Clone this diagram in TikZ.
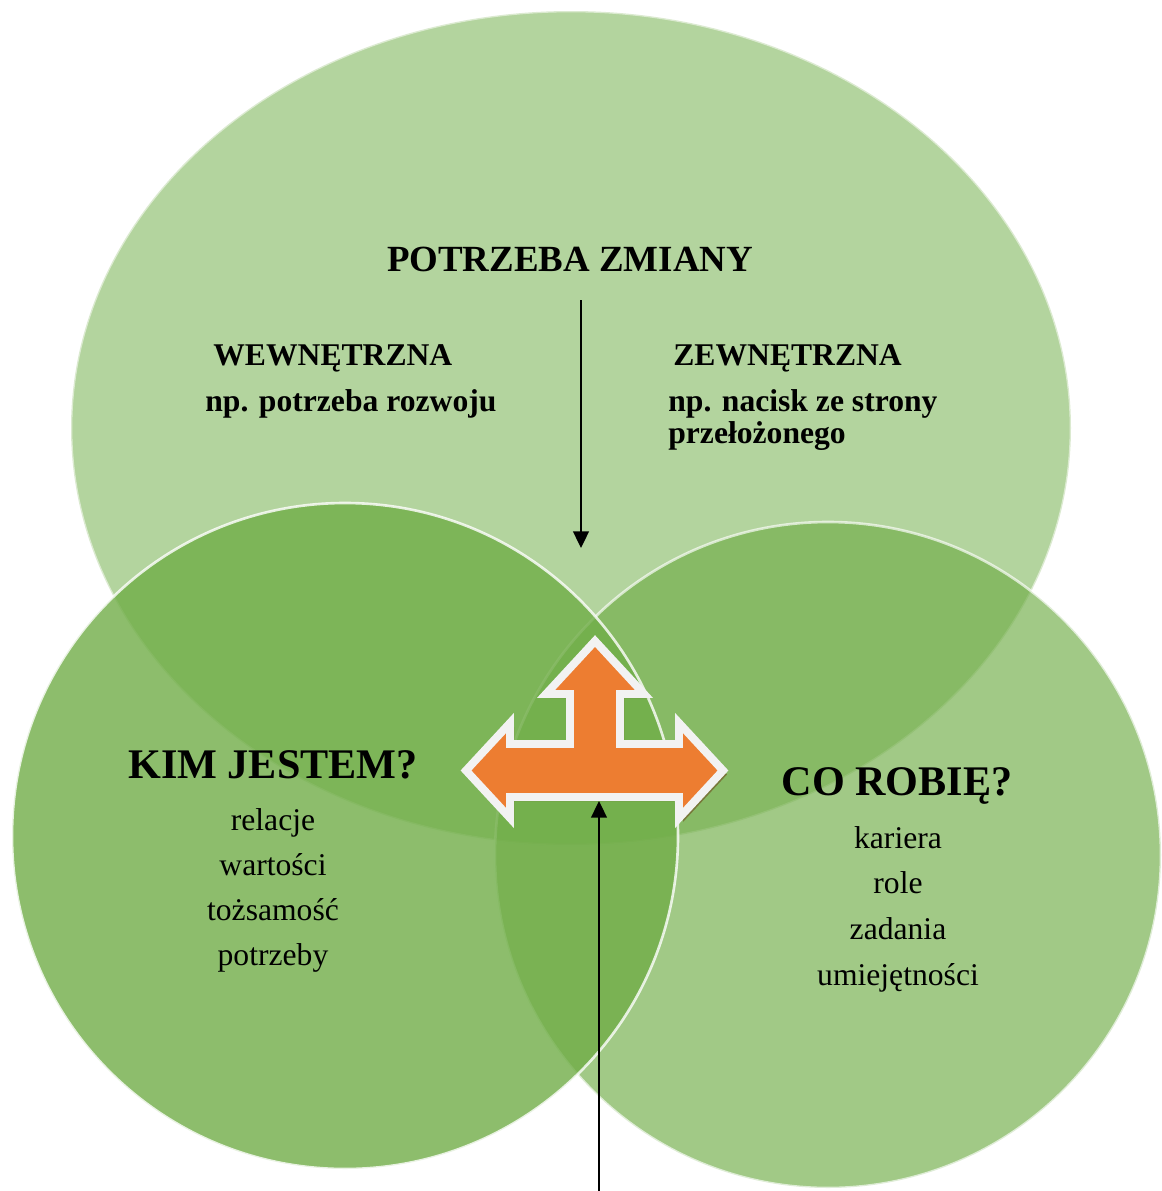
\documentclass[tikz,border=0pt]{standalone}
\usepackage{fontspec}
\setmainfont{Liberation Serif}
\usetikzlibrary{arrows.meta}

\definecolor{accgreen}{HTML}{70AD47}
\definecolor{accorange}{HTML}{ED7D31}
\definecolor{rimwhite}{HTML}{F2F2F2}
\definecolor{forkshadow}{RGB}{118,110,52}

% three-way arrow in the middle
\newcommand{\forkshape}{(595,641) -- (644,694) -- (620,694) -- (620,744)
  -- (679,744) -- (679,723) -- (723,770.5) -- (679,818) -- (679,797)
  -- (510,797) -- (510,818) -- (466,770.5) -- (510,723) -- (510,744)
  -- (570,744) -- (570,694) -- (546,694) -- cycle}

\begin{document}
\begin{tikzpicture}[x=0.02cm, y=-0.02cm,
    venn/.style={draw=white, line width=1.5pt, fill=accgreen},
    title/.style={font=\bfseries\fontsize{21}{25}\selectfont, anchor=base, inner sep=0pt},
    head/.style={font=\bfseries\fontsize{24}{28}\selectfont, anchor=base, inner sep=0pt},
    sub/.style={font=\bfseries\fontsize{18}{21}\selectfont, anchor=base west, inner sep=0pt},
    item/.style={font=\fontsize{18}{21}\selectfont, anchor=base, inner sep=0pt},
    pointer/.style={-{Triangle[length=9.5pt, width=9pt]}, line width=1.1pt}]
  \useasboundingbox (0,0) rectangle (1161,1191);

  % circles
  \path[venn, opacity=0.53] (571,428) ellipse [x radius=500, y radius=417];
  \path[venn, opacity=0.66] (828,855) circle [radius=333];
  \path[venn, opacity=0.80] (345,836) circle [radius=333];

  % top part
  \node[title] (need) at (570,271) {POTRZEBA ZMIANY};
  \node[sub] (inner) at (213,365) {WEWNĘTRZNA};
  \node[sub] (innerex) at (205,411) {np. potrzeba rozwoju};
  \node[sub] (outer) at (673,365) {ZEWNĘTRZNA};
  \node[sub] (outerex) at (668,411) {np. nacisk ze strony};
  \node[sub] (outerex2) at (668,443) {przełożonego};

  % left and right
  \node[head] (who) at (273,778) {KIM JESTEM?};
  \foreach \w [count=\i from 0] in {relacje,wartości,tożsamość,potrzeby}
    \node[item] (who\i) at (273,{830+45*\i}) {\w};
  \node[head] (what) at (897,795) {CO ROBIĘ?};
  \foreach \w [count=\i from 0] in {kariera,role,zadania,umiejętności}
    \node[item] (what\i) at (898,{848+45.7*\i}) {\w};

  % arrows
  \coordinate (needfoot) at (581,300);
  \coordinate (needtip) at (581,548);
  \draw[pointer] (needfoot) -- (needtip);

  \fill[forkshadow, opacity=0.85, shift={(4,4)}] \forkshape;
  \filldraw[fill=accorange, draw=rimwhite, line width=4.5pt, line join=miter] \forkshape;

  \coordinate (forkbase) at (599,801);
  \coordinate (pagefoot) at (599,1191);
  \draw[pointer] (pagefoot) -- (forkbase);
\end{tikzpicture}
\end{document}
